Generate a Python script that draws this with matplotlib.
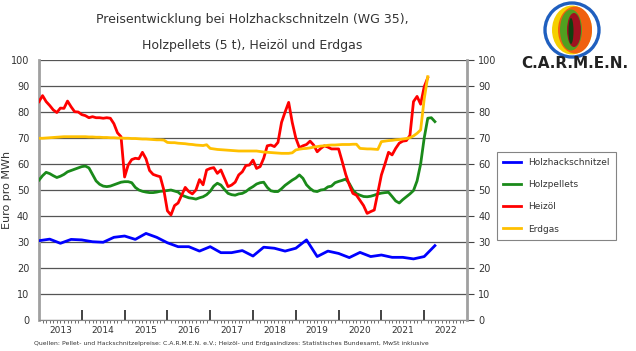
import numpy as np
import matplotlib
matplotlib.use('Agg')
import matplotlib.pyplot as plt
from matplotlib.patches import Circle, Ellipse
import matplotlib.transforms as mtransforms

plt.rcParams['font.family'] = ['DejaVu Sans']

# Holzhackschnitzel (quartalsweise, ab Q1 2013)
hackschnitzel = [30.5, 31.1, 29.5, 31.0, 30.8, 30.1, 29.9, 31.8, 32.3, 31.0,
                 33.3, 31.8, 29.7, 28.2, 28.2, 26.5, 28.2, 25.9, 25.9, 26.7,
                 24.6, 28.0, 27.6, 26.5, 27.6, 30.8, 24.4, 26.5, 25.6, 24.0,
                 26.0, 24.4, 25.0, 24.1, 24.1, 23.5, 24.4, 28.6]

# Holzpellets (monatlich, ab Jan 2013)
pellets = [53.8, 55.5, 56.8, 56.3, 55.5, 54.8, 55.3, 56.0, 57.0, 57.5, 58.0, 58.5,
           59.0, 59.2, 58.5, 56.0, 53.5, 52.2, 51.5, 51.3, 51.5, 52.0, 52.5, 53.0,
           53.2, 53.2, 52.8, 51.0, 50.0, 49.5, 49.2, 49.0, 49.0, 49.2, 49.5, 49.6,
           49.8, 50.0, 49.6, 49.2, 48.0, 47.5, 47.0, 46.8, 46.5, 47.0, 47.4, 48.2,
           49.5, 51.5, 52.6, 51.9, 50.2, 48.7, 48.2, 48.0, 48.5, 48.7, 49.4, 50.5,
           51.3, 52.3, 52.8, 53.0, 51.0, 49.7, 49.4, 49.4, 50.5, 51.8, 52.8, 53.8,
           54.6, 55.8, 54.5, 52.0, 50.6, 49.6, 49.4, 50.0, 50.2, 51.2, 51.5, 52.8,
           53.3, 53.7, 54.2, 52.5, 50.0, 48.6, 48.0, 47.5, 47.4, 47.6, 48.0, 48.5,
           48.8, 49.0, 49.1, 47.5, 45.8, 45.0, 46.3, 47.4, 48.5, 49.8, 53.5, 60.0,
           70.0, 77.6, 77.8, 76.3]

# Heizöl (monatlich, ab Jan 2013)
heizoel = [84.0, 86.3, 84.0, 82.5, 80.8, 79.8, 81.5, 81.4, 84.2, 82.0, 80.1, 80.0,
           79.0, 78.6, 77.8, 78.2, 77.8, 77.8, 77.6, 77.8, 77.6, 75.5, 72.0, 70.5,
           55.0, 59.6, 61.7, 62.2, 62.0, 64.5, 62.0, 57.5, 56.0, 55.5, 55.1, 50.0,
           42.0, 40.4, 44.0, 45.0, 48.0, 51.0, 49.4, 48.5, 50.0, 54.0, 52.0, 57.7,
           58.3, 58.6, 56.4, 57.7, 54.5, 51.3, 51.9, 53.0, 55.8, 57.0, 59.4, 59.6,
           61.5, 58.3, 59.0, 62.2, 67.0, 67.3, 66.7, 68.3, 76.0, 80.0, 83.7, 76.0,
           70.0, 66.3, 67.0, 67.5, 68.8, 67.3, 64.7, 66.0, 67.0, 66.5, 65.8, 65.8,
           65.8, 61.0, 56.0, 52.0, 48.7, 48.0, 46.0, 44.0, 41.0, 41.7, 42.3, 49.0,
           55.8, 60.0, 64.5, 63.5, 66.0, 68.0, 68.8, 69.0, 71.0, 84.0, 86.0, 83.0,
           89.7, 93.2]

# Erdgas (monatlich, ab Jan 2013)
erdgas = [69.9, 69.9, 70.0, 70.1, 70.2, 70.3, 70.4, 70.5, 70.5, 70.5, 70.5, 70.5,
          70.5, 70.5, 70.4, 70.4, 70.3, 70.3, 70.2, 70.2, 70.1, 70.1, 70.0, 70.0,
          69.9, 69.9, 69.8, 69.8, 69.7, 69.6, 69.6, 69.5, 69.4, 69.3, 69.3, 69.2,
          68.3, 68.2, 68.2, 68.0, 67.9, 67.8, 67.6, 67.5, 67.3, 67.2, 67.1, 67.4,
          66.0, 65.8, 65.6, 65.5, 65.4, 65.3, 65.2, 65.1, 65.0, 65.0, 65.0, 65.0,
          65.0, 65.0, 64.8, 64.6, 64.5, 64.4, 64.3, 64.2, 64.1, 64.1, 64.1, 64.3,
          65.4, 65.7, 65.9, 66.0, 66.2, 66.5, 66.7, 66.9, 67.0, 67.2, 67.3, 67.3,
          67.4, 67.5, 67.5, 67.5, 67.6, 67.6, 66.0, 65.9, 65.8, 65.8, 65.7, 65.6,
          68.6, 68.8, 69.0, 69.1, 69.3, 69.4, 69.6, 69.8, 70.1, 70.8, 71.8, 73.1,
          85.0, 93.6]

jahre = list(range(2013, 2023))
labels = ['Holzhackschnitzel', 'Holzpellets', 'Heizöl', 'Erdgas']
farben = ['#0000ff', '#1a8a1a', '#ff0000', '#ffc000']

W, H = 636, 351
fig = plt.figure(figsize=(W / 100, H / 100), dpi=100)
ax = fig.add_axes([39 / W, 1 - 320 / H, (467 - 39) / W, (320 - 60) / H])

t_q = 2013 + np.arange(len(hackschnitzel)) / 4
ax.plot(t_q, hackschnitzel, color=farben[0], lw=2, label=labels[0], zorder=5)
for serie, lab, col in zip([pellets, heizoel, erdgas], labels[1:], farben[1:]):
    t_m = 2013 + np.arange(len(serie)) / 12
    ax.plot(t_m, serie, color=col, lw=2, label=lab, zorder=5)

ax.set_xlim(2013, 2023)
ax.set_ylim(0, 100)
ax.set_yticks(range(0, 101, 10))
ax.grid(axis='y', color='#555555', lw=0.9)
ax.set_axisbelow(True)
for s in ['top', 'right']:
    ax.spines[s].set_visible(False)
ax.spines['left'].set_color('#a0a0a0')
ax.spines['left'].set_linewidth(2)
ax.spines['bottom'].set_color('#888888')
ax.tick_params(axis='y', length=0, pad=7, labelsize=7, labelcolor='#333333')

ax.set_xticks(jahre[1:])
ax.set_xticklabels([])
ax.set_xticks(2013 + np.arange(1, 120) / 12, minor=True)
ax.tick_params(axis='x', which='major', direction='in', length=7, width=1.2, color='#222222')
ax.tick_params(axis='x', which='minor', direction='out', length=2, width=0.6, color='#555555')
trans = mtransforms.blended_transform_factory(ax.transData, ax.transAxes)
for j in jahre:
    ax.text(j + 0.5, -0.04, str(j), transform=trans, ha='center', va='center',
            fontsize=6.5, color='#333333')

ax2 = ax.twinx()
ax2.set_ylim(0, 100)
ax2.set_yticks(range(0, 101, 10))
for s in ['top', 'left', 'bottom']:
    ax2.spines[s].set_visible(False)
ax2.spines['right'].set_color('#a0a0a0')
ax2.spines['right'].set_linewidth(2)
ax2.tick_params(axis='y', length=5, color='#444444', pad=3, labelsize=7, labelcolor='#333333')

ax.set_ylabel('Euro pro MWh', fontsize=8, color='#333333')
ax.yaxis.set_label_coords(-27 / 428, 0.5)

leg = ax.legend(loc='upper left', bbox_to_anchor=(497 / W, 1 - 152 / H),
                bbox_transform=fig.transFigure, fontsize=6.5, frameon=True,
                fancybox=False, edgecolor='#666666', handlelength=2.0,
                labelspacing=1.45, borderpad=0.7, handletextpad=0.7, borderaxespad=0)
leg.get_frame().set_linewidth(0.8)
for txt in leg.get_texts():
    txt.set_color('#333333')

fig.text(252 / W, 1 - 20 / H, 'Preisentwicklung bei Holzhackschnitzeln (WG 35),',
         ha='center', va='center', fontsize=9, color='#333333')
fig.text(252 / W, 1 - 45 / H, 'Holzpellets (5 t), Heizöl und Erdgas',
         ha='center', va='center', fontsize=9, color='#333333')
fig.text(231 / W, 1 - 344 / H,
         'Quellen: Pellet- und Hackschnitzelpreise: C.A.R.M.E.N. e.V.; '
         'Heizöl- und Erdgasindizes: Statistisches Bundesamt, MwSt inklusive',
         ha='center', va='center', fontsize=4.4, color='#333333')

# Logo
lax = fig.add_axes([538 / W, 1 - 59 / H, 68 / W, 58 / H])
lax.set_xlim(-34, 34)
lax.set_ylim(-29, 29)
lax.set_aspect('equal')
lax.axis('off')
lax.add_patch(Circle((0, 0), 27, fc='white', ec='#1f5fbf', lw=2.4))
lax.add_patch(Ellipse((0, 0), 40, 49, fc='#f5d000', ec='none'))
lax.add_patch(Ellipse((3, 0), 34, 47, fc='#f06010', ec='none'))
lax.add_patch(Ellipse((-1, 0), 22, 41, fc='#50a020', ec='none'))
lax.add_patch(Ellipse((2, 0), 14, 34, fc='#a01020', ec='none'))
lax.add_patch(Ellipse((-1, -1), 5, 26, fc='#104010', ec='none'))
fig.text(575 / W, 1 - 64 / H, 'C.A.R.M.E.N.', ha='center', va='center',
         fontsize=11, fontweight='bold', color='#222222')

fig.savefig('out.png', dpi=100)
